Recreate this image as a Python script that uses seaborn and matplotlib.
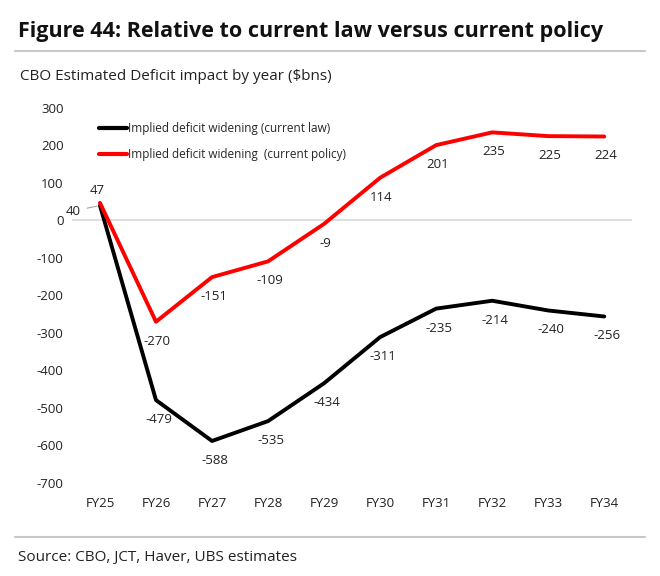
import seaborn as sns
import matplotlib.pyplot as plt
import pandas as pd
from matplotlib.lines import Line2D

years = ['FY25', 'FY26', 'FY27', 'FY28', 'FY29', 'FY30', 'FY31', 'FY32', 'FY33', 'FY34']
current_law = [40, -479, -588, -535, -434, -311, -235, -214, -240, -256]
current_policy = [47, -270, -151, -109, -9, 114, 201, 235, 225, 224]

law_name = 'Implied deficit widening (current law)'
policy_name = 'Implied deficit widening  (current policy)'

df = pd.DataFrame({
    'year': years * 2,
    'value': current_law + current_policy,
    'series': [law_name] * len(years) + [policy_name] * len(years),
})

sns.set_style('white')
plt.rcParams['font.family'] = ['Open Sans', 'DejaVu Sans']
plt.rcParams['axes.unicode_minus'] = False

fig = plt.figure(figsize=(6.6, 5.76), dpi=100)
ax = fig.add_axes([0.109, 0.1615, 0.849, 0.651])

sns.lineplot(data=df, x='year', y='value', hue='series',
             palette={law_name: '#000000', policy_name: '#ff0000'},
             linewidth=2.8, ax=ax, sort=False)

ax.axhline(0, color='#d9d9d9', linewidth=1.2, zorder=0)
ax.set_ylim(-700, 300)
ax.set_xlim(-0.5, 9.5)
ax.set_yticks(range(-700, 301, 100))
ax.set_xlabel('')
ax.set_ylabel('')
sns.despine(ax=ax, left=True, bottom=True)
ax.tick_params(axis='both', length=0, labelsize=9.5, colors='#222222')
ax.tick_params(axis='x', pad=10)
ax.tick_params(axis='y', pad=6)

# data labels
for i, v in enumerate(current_law):
    if i == 0:
        ax.annotate(str(v), (i, v), xytext=(-19, -4), textcoords='offset points',
                    ha='center', va='center', fontsize=9.5, color='#222222',
                    arrowprops=dict(arrowstyle='-', color='#999999', lw=0.7,
                                    shrinkA=2, shrinkB=2))
    else:
        ax.annotate(str(v), (i, v), xytext=(2, -14), textcoords='offset points',
                    ha='center', va='center', fontsize=9.5, color='#222222')
for i, v in enumerate(current_policy):
    if i == 0:
        ax.annotate(str(v), (i, v), xytext=(-2, 9), textcoords='offset points',
                    ha='center', va='center', fontsize=9.5, color='#222222')
    else:
        ax.annotate(str(v), (i, v), xytext=(1, -14), textcoords='offset points',
                    ha='center', va='center', fontsize=9.5, color='#222222')

leg = ax.legend(loc='upper left', bbox_to_anchor=(0.03, 0.99), frameon=False,
                fontsize=8.5, handlelength=2.3, handletextpad=0.1,
                labelspacing=1.1)
for line in leg.get_lines():
    line.set_linewidth(3)

fig.text(0.027, 0.945, 'Figure 44: Relative to current law versus current policy',
         fontsize=15.5, fontweight='bold', color='#111111', va='center')
fig.add_artist(Line2D([0.023, 0.977], [0.912, 0.912], color='#c8c8c8', lw=1.5))
fig.text(0.03, 0.868, 'CBO Estimated Deficit impact by year ($bns)',
         fontsize=11, color='#222222', va='center')
fig.add_artist(Line2D([0.023, 0.977], [0.068, 0.068], color='#c8c8c8', lw=1.5))
fig.text(0.027, 0.032, 'Source: CBO, JCT, Haver, UBS estimates',
         fontsize=11, color='#222222', va='center')

plt.savefig('out.png', dpi=100)
plt.close()
